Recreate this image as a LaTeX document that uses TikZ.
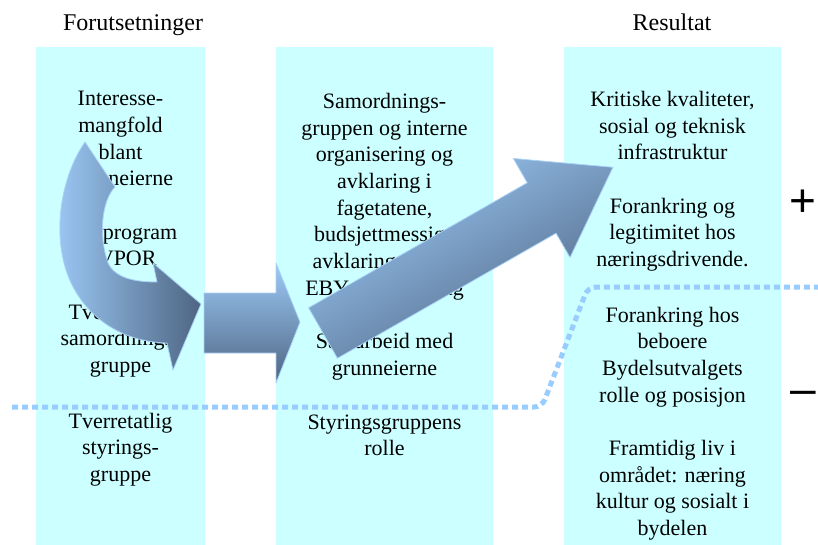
\documentclass[tikz,border=0pt]{standalone}
\usepackage{fontspec}
\setmainfont{Liberation Serif}
\newfontfamily\signfont{Liberation Sans}
\usetikzlibrary{positioning,calc}
\definecolor{colbg}{HTML}{CCFFFF}
\definecolor{dotblue}{HTML}{99CCFF}
\definecolor{arrlight}{HTML}{9DCAF7}
\definecolor{arrdark}{HTML}{4E6582}
\definecolor{arredge}{HTML}{A9D1F7}
\tikzset{
  col/.style={fill=colbg, draw=none, inner sep=0pt, outer sep=0pt, anchor=north west, minimum height=498pt},
  txt/.style={align=center, inner sep=0pt, font=\fontsize{22}{26.7}\selectfont},
  hdr/.style={inner sep=0pt, anchor=base, font=\fontsize{24}{28}\selectfont},
  sign/.style={inner sep=0pt, anchor=base, font=\signfont\fontsize{46}{46}\selectfont},
  barr/.style={draw=arredge, line width=0.8pt, line join=round},
  dotln/.style={draw=dotblue, line width=5pt, dash pattern=on 6pt off 4pt, rounded corners=8pt},
}

\begin{document}
\begin{tikzpicture}[x=1pt, y=-1pt]
\useasboundingbox (0,0) rectangle (818,545);

\node[col, minimum width=169pt] (colL) at (36,47) {};
\node[col, minimum width=217pt] (colM) at (276,47) {};
\node[col, minimum width=217pt] (colR) at (564,47) {};

\node[hdr] (hdrL) at (133,31) {Forutsetninger};
\node[hdr] (hdrR) at (672,31) {Resultat};

\node[txt, below=44pt of colL.north] (txtL1) {Interesse-\\mangfold\\blant\\grunneierne\\[26.7pt]Planprogram\\EVPOR\\[26.7pt]Tverretatlig\\samordnings-\\gruppe};
\node[txt, below=35pt of txtL1] (txtL2) {Tverretatlig\\styrings-\\gruppe};

\node[txt, below=46pt of colM.north] (txtM1) {Samordnings-\\gruppen og interne\\organisering og\\avklaring i\\fagetatene,\\budsjettmessige\\avklaringer med\\EBY-organisering};
\node[txt, below=33pt of txtM1] (txtM2) {Samarbeid med\\grunneierne};
\node[txt, below=34pt of txtM2] (txtM3) {Styringsgruppens\\rolle};

\node[txt, below=44pt of colR.north] (txtR1) {Kritiske kvaliteter,\\sosial og teknisk\\infrastruktur\\[26.7pt]Forankring og\\legitimitet hos\\næringsdrivende.};
\node[txt, below=35pt of txtR1] (txtR2) {Forankring hos\\beboere\\Bydelsutvalgets\\rolle og posisjon\\[26.7pt]Framtidig liv i\\området: næring\\kultur og sosialt i\\bydelen};

\node[sign] (plus) at (803,216) {+};
\node[sign] (minus) at (803,404) {–};

\coordinate (dotA) at (12,407);
\coordinate (dotB) at (542,407);
\coordinate (dotC) at (588,287);
\coordinate (dotD) at (830,287);
\draw[dotln] (dotA) -- (dotB) -- (dotC) -- (dotD);

\shadedraw[barr, left color=arrlight, middle color=arrlight!90!arrdark, right color=arrdark]
  (85,142) .. controls (62,175) and (52,230) .. (67,273)
  .. controls (82,315) and (120,342) .. (167,343)
  -- (173,370) -- (201,304) -- (153,263) -- (157,282)
  .. controls (140,282) and (116,280) .. (108,263)
  .. controls (98,235) and (102,200) .. (115,187) -- cycle;

\shadedraw[barr, top color=arrlight, bottom color=arrdark]
  (204,293) -- (276,293) -- (276,263) -- (300,322) -- (276,383) -- (276,353) -- (204,353) -- cycle;

\shadedraw[barr, top color=arrlight, bottom color=arrdark, shading angle=30]
  (308.6,307.8) -- (527.3,182.8) -- (513.4,158.5) -- (612.9,167.3)
  -- (570,257.5) -- (556.1,233.2) -- (337.4,358.2) -- cycle;

\end{tikzpicture}
\end{document}
